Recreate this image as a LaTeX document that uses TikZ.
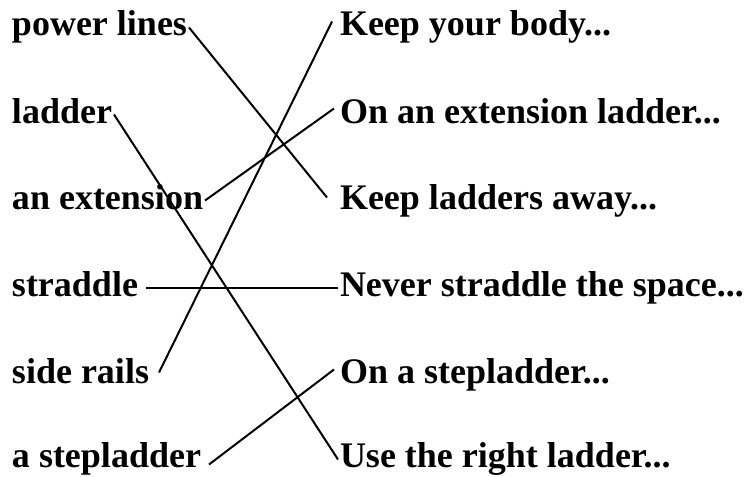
\documentclass[tikz,border=0pt]{standalone}
\usepackage{fontspec}
\setmainfont{Liberation Serif}
\usetikzlibrary{calc}

\begin{document}
\begin{tikzpicture}[x=1pt, y=-1pt, every node/.style={font=\fontsize{36}{40}\selectfont\bfseries}]
\tikzset{lbl/.style={anchor=base west, inner sep=2pt, outer sep=0pt, text height=25pt, text depth=8pt}}
\tikzset{link/.style={line width=2pt}}
\useasboundingbox (0,0) rectangle (751,476);
% left column
\node[lbl] (pl) at (10,36) {power lines};
\node[lbl] (ld) at (10,123) {ladder};
\node[lbl] (ae) at (10,209) {an extension};
\node[lbl] (st) at (10,296) {straddle};
\node[lbl] (sr) at (10,383) {side rails};
\node[lbl] (sl) at (10,467) {a stepladder};
% right column
\node[lbl] (kyb) at (338,36) {Keep your body...};
\node[lbl] (oel) at (338,123) {On an extension ladder...};
\node[lbl] (kla) at (338,209) {Keep ladders away...};
\node[lbl] (nss) at (338,296) {Never straddle the space...};
\node[lbl] (osl) at (338,383) {On a stepladder...};
\node[lbl] (url) at (338,467) {Use the right ladder...};
% matching lines
\draw[link] (pl.east) -- ($(kla.west)+(-11,-3)$);
\draw[link] (ld.east) -- ($(url.west)+(0,1)$);
\draw[link] (ae.east) -- ($(oel.west)+(-4,-6)$);
\draw[link] ($(st.east)+(6,0)$) -- (nss.west);
\draw[link] ($(sr.east)+(8,-2)$) -- ($(kyb.west)+(-6,-6)$);
\draw[link] ($(sl.east)+(6,6)$) -- ($(osl.west)+(-4,-5)$);
\end{tikzpicture}
\end{document}
